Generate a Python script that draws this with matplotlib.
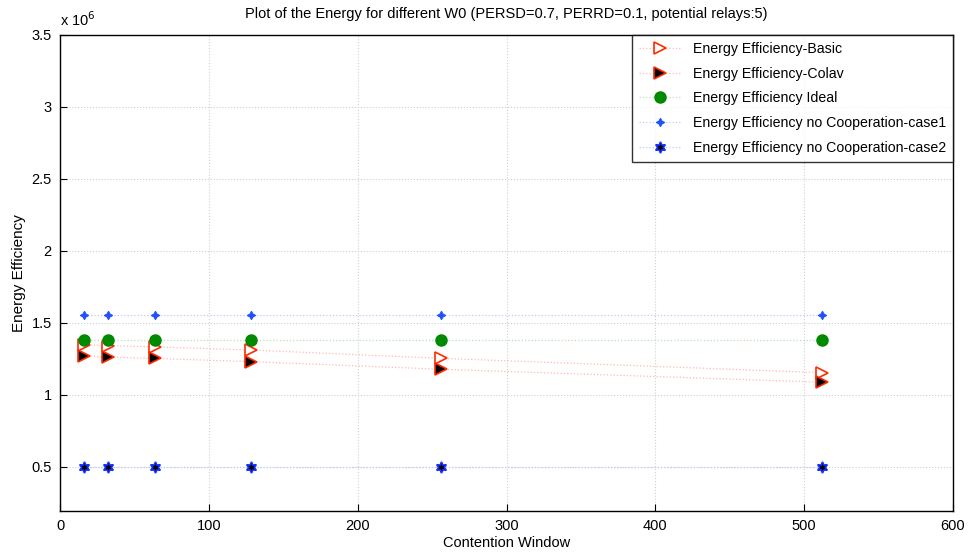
import matplotlib
matplotlib.use("Agg")
import matplotlib.pyplot as plt
from matplotlib.ticker import FuncFormatter

plt.rcParams['font.family'] = ['Liberation Sans', 'DejaVu Sans']

# Contention window sizes (W0)
window = [16, 32, 64, 128, 256, 512]

# Energy efficiency for each scheme
basic = [1.346e6, 1.342e6, 1.332e6, 1.311e6, 1.253e6, 1.153e6]
colav = [1.269e6, 1.262e6, 1.252e6, 1.230e6, 1.177e6, 1.087e6]
ideal = [1.380e6, 1.380e6, 1.380e6, 1.380e6, 1.380e6, 1.380e6]
nocoop_case1 = [1.554e6, 1.554e6, 1.554e6, 1.554e6, 1.554e6, 1.554e6]
nocoop_case2 = [0.5e6, 0.5e6, 0.5e6, 0.5e6, 0.5e6, 0.5e6]

labels = [
    "Energy Efficiency-Basic",
    "Energy Efficiency-Colav",
    "Energy Efficiency Ideal",
    "Energy Efficiency no Cooperation-case1",
    "Energy Efficiency no Cooperation-case2",
]

xticks = [0, 100, 200, 300, 400, 500, 600]
yticks = [0.5e6, 1.0e6, 1.5e6, 2.0e6, 2.5e6, 3.0e6, 3.5e6]

fig = plt.figure(figsize=(9.7, 5.59), dpi=100)
ax = fig.add_axes([0.0619, 0.0864, 0.9206, 0.851])

ax.plot(window, basic, linestyle=':', color='#ffb8b0', linewidth=0.9,
        marker='>', markersize=9, markerfacecolor='white',
        markeredgecolor='#ff2a00', markeredgewidth=1.2, label=labels[0])
ax.plot(window, colav, linestyle=':', color='#ffb8b0', linewidth=0.9,
        marker='>', markersize=9, markerfacecolor='black',
        markeredgecolor='#ff2a00', markeredgewidth=1.2, label=labels[1])
ax.plot(window, ideal, linestyle=':', color='#b8e0b8', linewidth=0.9,
        marker='o', markersize=8, markerfacecolor='#008a00',
        markeredgecolor='#008a00', label=labels[2])
ax.plot(window, nocoop_case1, linestyle=':', color='#c0c8ff', linewidth=0.9,
        marker=(4, 1, 0), markersize=6, markerfacecolor='#2050ff',
        markeredgecolor='#2050ff', markeredgewidth=0.8, label=labels[3])
ax.plot(window, nocoop_case2, linestyle=':', color='#c0c8ff', linewidth=0.9,
        marker=(6, 1, 0), markersize=8, markerfacecolor='black',
        markeredgecolor='#1030ff', markeredgewidth=1.2, label=labels[4])

ax.set_xlim(0, 600)
ax.set_ylim(0.194e6, 3.5e6)
ax.set_xticks(xticks)
ax.set_yticks(yticks)
ax.yaxis.set_major_formatter(FuncFormatter(lambda v, _: f"{v / 1e6:g}"))
ax.tick_params(direction='in', length=5, width=0.8, labelsize=10.5, pad=6,
               top=False, right=False)
ax.grid(True, linestyle=':', color='#d0d0d0', linewidth=0.8)
for s in ax.spines.values():
    s.set_linewidth(1.0)
    s.set_color('black')

ax.text(0.0, 1.012, r"x 10$^{6}$", transform=ax.transAxes, fontsize=10.5,
        ha='left', va='bottom')

ax.set_title("Plot of the Energy for different W0 (PERSD=0.7, PERRD=0.1, potential relays:5)",
             fontsize=10.5, pad=12)
ax.set_xlabel("Contention Window", fontsize=10.5, labelpad=2)
ax.set_ylabel("Energy Efficiency", fontsize=11, labelpad=4)

leg = ax.legend(loc='upper right', bbox_to_anchor=(1.0, 1.0), fontsize=10.2,
                frameon=True, fancybox=False, borderaxespad=0.0,
                handlelength=3.0, handletextpad=0.8, labelspacing=0.75,
                borderpad=0.5)
leg.get_frame().set_edgecolor('black')
leg.get_frame().set_linewidth(1.0)

fig.savefig("out.png", dpi=100)
